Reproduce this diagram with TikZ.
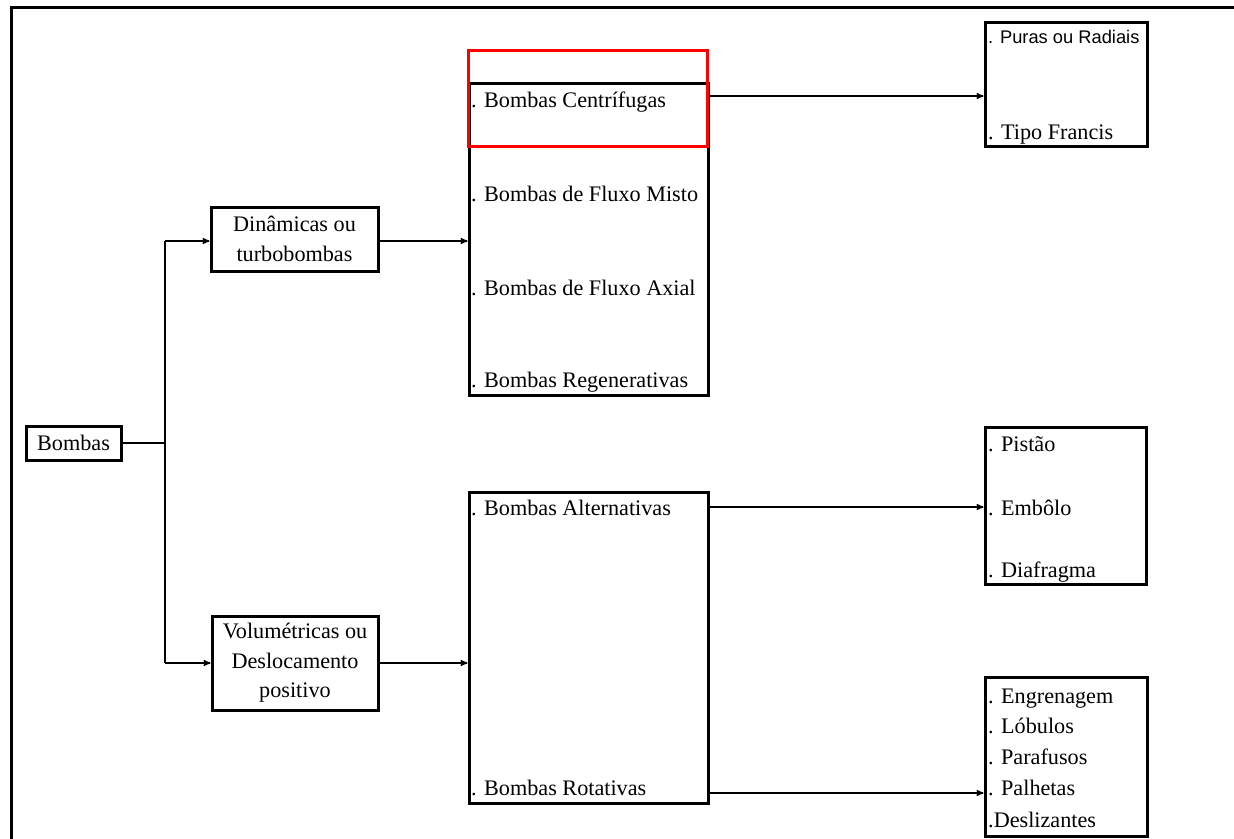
\documentclass[tikz,border=0pt]{standalone}
\usepackage{fontspec}
\setmainfont{Liberation Serif}
\newfontfamily\radialfont{Liberation Sans}
\usetikzlibrary{arrows,positioning,calc}
\tikzset{
    block/.style={
        rectangle,
        draw=black,
        line width=3pt,
        inner sep=0pt,
        align=center,
    },
    group/.style={
        rectangle,
        draw=black,
        line width=3pt,
        minimum width=239pt,
    },
    item/.style={
        anchor=base west,
        inner sep=0pt,
    },
    link/.style={
        draw,
        line width=1.4pt,
    },
    every edge/.style={
        draw,
        ->,>=stealth',
        line width=1.4pt,
    },
}

\begin{document}
\begin{tikzpicture}[x=1pt,y=-1pt,font=\fontsize{22.2}{29.5}\selectfont]
                \useasboundingbox (0,0) rectangle (1234,838);
                \draw[line width=3pt] (11.5,850) -- (11.5,7.5) -- (1245,7.5);

                % first level
                \node [block, minimum width=95pt, minimum height=34pt] (bombas) at (73.5,443) {Bombas};
                \node [block, minimum width=167pt, minimum height=64pt] (dyn) at (294.5,239) {Dinâmicas ou\\turbobombas};
                \node [block, minimum width=166pt, minimum height=94pt] (vol) at (295,663) {Volumétricas ou\\Deslocamento\\positivo};
                \coordinate (split) at (165,443);

                % second level
                \node [group, minimum height=312pt] (dynlist) at (588.5,239) {};
                \node [group, minimum height=311pt] (vollist) at (588.5,647.5) {};
                \node [group, draw=red, minimum height=96pt] (mark) at (588,98) {};

                \node [item] (cent) at (471,107) {. Bombas Centrífugas};
                \node [item] (misto) at (471,201) {. Bombas de Fluxo Misto};
                \node [item] (axial) at (471,295) {. Bombas de Fluxo Axial};
                \node [item] (regen) at (471,387) {. Bombas Regenerativas};
                \node [item] (alt) at (471,515) {. Bombas Alternativas};
                \node [item] (rot) at (471,795) {. Bombas Rotativas};

                % third level
                \node [block, minimum width=162pt, minimum height=124pt] (radial) at (1066,84) {};
                \node [block, minimum width=161pt, minimum height=157pt] (piston) at (1065.5,505.5) {};
                \node [block, minimum width=162pt, minimum height=159pt] (rotary) at (1066,756.5) {};

                \node [item, font=\radialfont\fontsize{18.3}{22}\selectfont] (puras) at (988,43) {. Puras ou Radiais};
                \node [item] (francis) at (988,139) {. Tipo Francis};
                \node [item] (pistao) at (988,451) {. Pistão};
                \node [item] (embolo) at (988,515) {. Embôlo};
                \node [item] (diafr) at (988,577) {. Diafragma};
                \node [item] (engren) at (988,703) {. Engrenagem};
                \node [item] (lobulos) at (988,733) {. Lóbulos};
                \node [item] (paraf) at (988,764) {. Parafusos};
                \node [item] (palh) at (988,795) {. Palhetas};
                \node [item] (desl) at (988,827) {.Deslizantes};

                \draw [link] (bombas.east) -- (split);
                \draw [link] (split |- 0,241) -- (split |- vol.west);
                \draw (split |- 0,241) edge (dyn.west |- 0,241);
                \draw (split |- vol.west) edge (vol.west);
                \draw (dyn.east |- 0,241) edge (dynlist.west |- 0,241);
                \draw (vol.east) edge (vollist.west |- vol.east);

                \draw (mark.east |- 0,96) edge (radial.west |- 0,96);
                \draw (vollist.east |- 0,507) edge (piston.west |- 0,507);
                \draw (vollist.east |- 0,793) edge (rotary.west |- 0,793);
            \end{tikzpicture}
\end{document}
